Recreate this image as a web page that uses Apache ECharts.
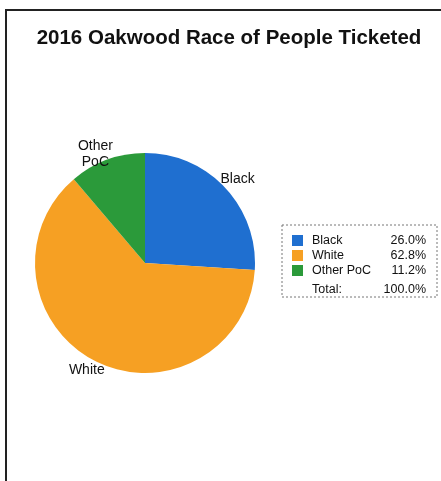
<!DOCTYPE html>
<html>
<head>
<meta charset="utf-8">
<script src="https://cdn.jsdelivr.net/npm/echarts@6/dist/echarts.min.js"></script>
<style>
html,body{margin:0;padding:0;background:#fff;}
#chart{width:441px;height:481px;}
</style>
</head>
<body>
<div id="chart"></div>
<script>
const categories = ['Black', 'White', 'Other PoC'];
const pieLabels = ['Black', 'White', 'Other\nPoC'];
const values = [26.0, 62.8, 11.2];
const colors = ['#1f6fd0', '#f6a023', '#2b9a3a'];
const titleText = '2016 Oakwood Race of People Ticketed';

// small label nudges (style only)
const labelNudge = [[-12, -7], [15, 7], [12, -4]];

const total = values.reduce((a, b) => a + b, 0);
const font = '"Liberation Sans", Arial, sans-serif';

const chart = echarts.init(document.getElementById('chart'));
chart.setOption({
  backgroundColor: '#fff',
  animation: false,
  title: {
    text: titleText,
    left: 224,
    textAlign: 'center',
    top: 23,
    textStyle: { fontFamily: font, fontSize: 20.5, fontWeight: 'bold', color: '#111' }
  },
  legend: {
    orient: 'vertical',
    left: 287,
    top: 229,
    itemWidth: 11,
    itemHeight: 11,
    itemGap: 2,
    icon: 'rect',
    data: categories,
    formatter: function (name) {
      const i = categories.indexOf(name);
      return '{n|' + name + '}{v|' + values[i].toFixed(1) + '%}';
    },
    textStyle: {
      fontFamily: font, fontSize: 12.5, color: '#111',
      rich: {
        n: { width: 74, padding: [0, 0, 0, 4], fontFamily: font, fontSize: 12.5, color: '#111' },
        v: { width: 40, align: 'right', fontFamily: font, fontSize: 12.5, color: '#111' }
      }
    }
  },
  graphic: [
    {
      type: 'rect', silent: true,
      shape: { x: 6, y: 10, width: 460, height: 500 },
      style: { fill: 'none', stroke: '#222', lineWidth: 2 }
    },
    {
      type: 'rect', silent: true,
      shape: { x: 282, y: 225, width: 155, height: 72 },
      style: { fill: 'none', stroke: '#777', lineWidth: 1, lineDash: [2, 2] }
    },
    {
      type: 'text', silent: true, left: 312, top: 283,
      style: { text: 'Total:', font: '12.5px ' + font, fill: '#111' }
    },
    {
      type: 'text', silent: true, right: 15, top: 283,
      style: { text: total.toFixed(1) + '%', font: '12.5px ' + font, fill: '#111', align: 'right' }
    }
  ],
  series: [{
    type: 'pie',
    center: [145, 263],
    radius: 110,
    startAngle: 90,
    clockwise: true,
    avoidLabelOverlap: false,
    color: colors,
    label: {
      show: true,
      position: 'outside',
      fontFamily: font,
      fontSize: 14,
      color: '#111',
      lineHeight: 16,
      formatter: function (p) {
        return pieLabels[p.dataIndex].split('\n').map(s => '{a|' + s + '}').join('\n');
      },
      rich: {
        a: { width: 36, align: 'center', fontFamily: font, fontSize: 14, color: '#111', lineHeight: 16 }
      }
    },
    labelLine: { show: false, length: 2, length2: 0 },
    labelLayout: function (params) {
      const d = labelNudge[params.dataIndex];
      return { dx: d[0], dy: d[1] };
    },
    emphasis: { disabled: true },
    data: categories.map((c, i) => ({ name: c, value: values[i] }))
  }]
});
</script>
</body>
</html>
